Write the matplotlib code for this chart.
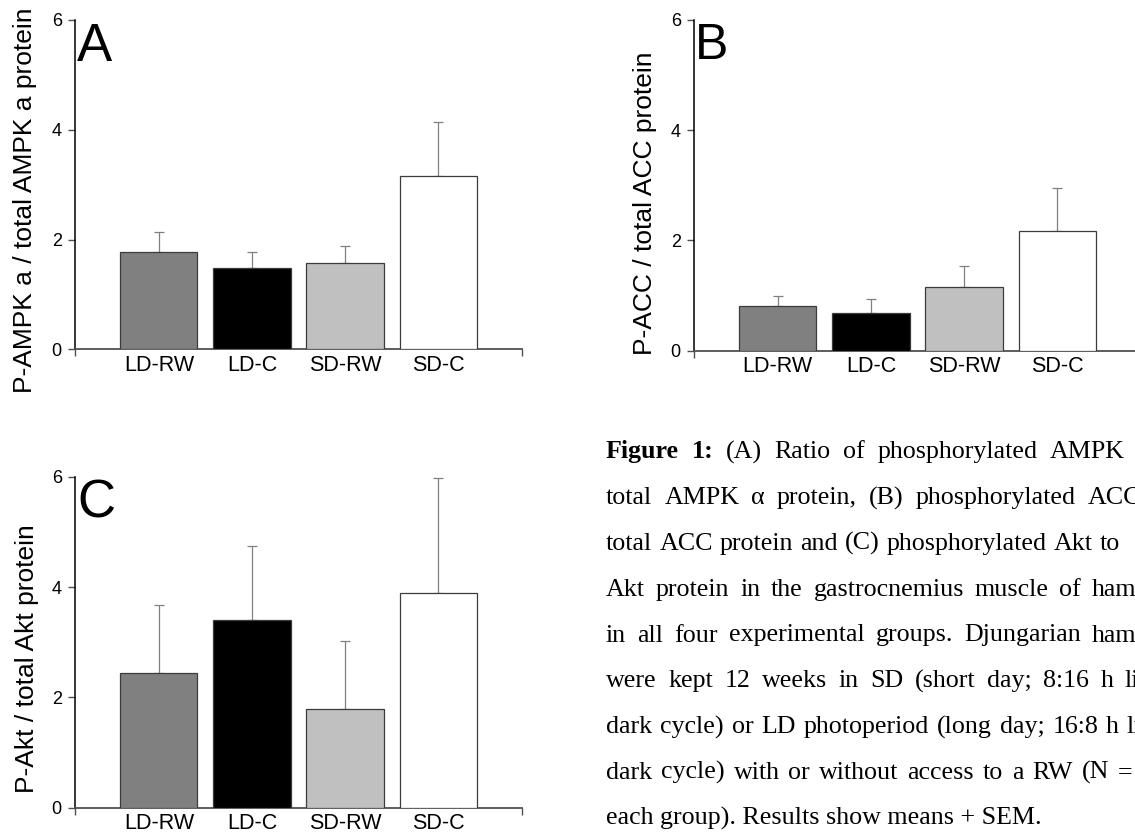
import numpy as np
import matplotlib
matplotlib.use('Agg')
import matplotlib.pyplot as plt

# groups and colours of the bars
groups = ['LD-RW', 'LD-C', 'SD-RW', 'SD-C']
colors = ['#808080', '#000000', '#c0c0c0', '#ffffff']

# means and SEM
ampk_mean = [1.78, 1.49, 1.58, 3.16]
ampk_sem = [0.36, 0.28, 0.31, 0.99]
acc_mean = [0.82, 0.69, 1.15, 2.18]
acc_sem = [0.17, 0.24, 0.38, 0.77]
akt_mean = [2.45, 3.41, 1.79, 3.89]
akt_sem = [1.22, 1.33, 1.24, 2.09]

yticks = [0, 2, 4, 6]

# caption (justified lines, last one not)
cap_lines = [
    ['Figure', '1:', '(A)', 'Ratio', 'of', 'phosphorylated', 'AMPK'],
    ['total', 'AMPK', 'α', 'protein,', '(B)', 'phosphorylated', 'ACC'],
    ['total', 'ACC', 'protein', 'and', '(C)', 'phosphorylated', 'Akt', 'to'],
    ['Akt', 'protein', 'in', 'the', 'gastrocnemius', 'muscle', 'of', 'hamsters'],
    ['in', 'all', 'four', 'experimental', 'groups.', 'Djungarian', 'hamsters'],
    ['were', 'kept', '12', 'weeks', 'in', 'SD', '(short', 'day;', '8:16', 'h', 'light'],
    ['dark', 'cycle)', 'or', 'LD', 'photoperiod', '(long', 'day;', '16:8', 'h', 'light'],
    ['dark', 'cycle)', 'with', 'or', 'without', 'access', 'to', 'a', 'RW', '(N', '='],
]
cap_last = 'each group). Results show means + SEM.'
cap_bold = ['Figure', '1:']
# x (px) where the last visible word of each justified line starts
cap_xlast = [1050, 1088, 1100, 1092, 1092, 1125, 1127, 1118]

W, H = 1135, 836
fig = plt.figure(figsize=(W / 100, H / 100), dpi=100)
plt.rcParams['font.family'] = 'Liberation Sans'


def px(x, y):
    return x / W, 1 - y / H


def panel(rect, means, sems, ylabel, lab_xy, letter, let_xy, let_size):
    ax = fig.add_axes(rect)
    x = np.arange(1, len(groups) + 1)
    ax.bar(x, means, width=0.83, color=colors, edgecolor='#3c3c3c',
           linewidth=0.9, zorder=3)
    ax.errorbar(x, means, yerr=[np.zeros(len(sems)), sems], fmt='none',
                ecolor='#808080', elinewidth=0.9, capsize=3.5, capthick=0.9,
                zorder=2)
    ax.set_xlim(0.1, 4.9)
    ax.set_ylim(0, 6)
    ax.set_yticks(yticks)
    ax.set_xticks(x)
    ax.set_xticklabels(groups, fontsize=15.5)
    ax.set_xticks([0.1, 4.9], minor=True)
    ax.tick_params(axis='x', which='major', length=0, pad=4)
    ax.tick_params(axis='x', which='minor', length=5, width=1, color='#505050')
    ax.tick_params(axis='y', length=5, width=1, color='#505050',
                   labelsize=13, pad=4.5)
    for s in ['top', 'right']:
        ax.spines[s].set_visible(False)
    ax.spines['left'].set_color('black')
    ax.spines['left'].set_linewidth(1.1)
    ax.spines['bottom'].set_color('#505050')
    ax.spines['bottom'].set_linewidth(1.3)
    ax.spines['bottom'].set_clip_on(False)
    fx, fy = px(*lab_xy)
    fig.text(fx, fy, ylabel, rotation=90, fontsize=19, ha='center', va='center')
    lx, ly = px(*let_xy)
    fig.text(lx, ly, letter, fontsize=let_size, ha='left', va='baseline')
    return ax


panel([75 / W, 1 - 349.3 / H, 447 / W, 329.3 / H], ampk_mean, ampk_sem,
      'P-AMPK a / total AMPK a protein', (25, 200), 'A', (77, 61), 38)
panel([694 / W, 1 - 350.7 / H, 447 / W, 330.7 / H], acc_mean, acc_sem,
      'P-ACC / total ACC protein', (645, 203), 'B', (695, 59), 36)
panel([75 / W, 1 - 807.7 / H, 447 / W, 331 / H], akt_mean, akt_sem,
      'P-Akt / total Akt protein', (27, 659), 'C', (77, 518), 38)

# caption, word by word so the lines come out justified
renderer = fig.canvas.get_renderer()
cap_font = dict(family='Liberation Serif', fontsize=18.7)
x0 = 606
base0, step = 458.3, 45.8


def word_width(w, bold):
    t = fig.text(0, 0, w, fontweight='bold' if bold else 'normal', **cap_font)
    wd = t.get_window_extent(renderer).width
    t.remove()
    return wd


for i, words in enumerate(cap_lines):
    bold = [i == 0 and w in cap_bold for w in words]
    widths = [word_width(w, b) for w, b in zip(words, bold)]
    gap = (cap_xlast[i] - x0 - sum(widths[:-1])) / (len(words) - 1)
    xx = x0
    y = base0 + i * step
    for w, b, wd in zip(words, bold, widths):
        fx, fy = px(xx, y)
        fig.text(fx, fy, w, va='baseline', ha='left',
                 fontweight='bold' if b else 'normal', **cap_font)
        xx += wd + gap

fx, fy = px(x0, base0 + 8 * step)
fig.text(fx, fy, cap_last, va='baseline', ha='left', **cap_font)

fig.savefig('out.png', dpi=100)
